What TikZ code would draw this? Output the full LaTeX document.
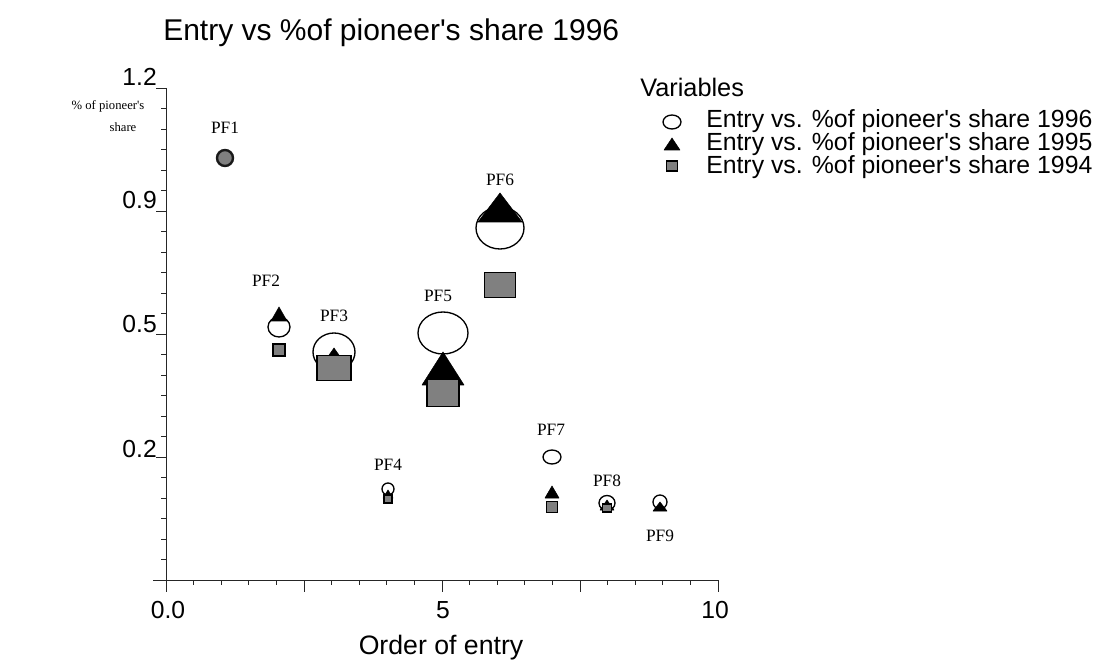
\documentclass[tikz,border=0pt]{standalone}
\usepackage{fontspec}
\setmainfont{Liberation Sans}
\newfontfamily\pfserif{Liberation Serif}
\newcommand\mcirc[4]{\draw[circ] (#1,#2) ellipse [x radius=#3, y radius=#4];}
\newcommand\mtri[4]{\draw[tri] (#1,#2) -- ++(#4,#3) -- ++(-2*#4,0) -- cycle;}
\newcommand\msq[4]{\draw[sq,shift={(#1,#2)}] (-#3/2,-#4/2) rectangle (#3/2,#4/2);}
\begin{document}
\begin{tikzpicture}[x=0.75pt,y=-0.75pt,
  axis/.style={line width=0.7pt, black!85},
  circ/.style={draw=black, line width=1pt},
  tri/.style={fill=black, draw=black, line width=0.4pt, line join=round},
  sq/.style={fill=black!50, draw=black, line width=1.4pt},
  pf/.style={font=\pfserif\fontsize{13}{15}\selectfont, inner sep=0pt},
  ticklab/.style={font=\fontsize{18.5}{22}\selectfont, inner sep=0pt},
  legtext/.style={font=\fontsize{18.6}{22}\selectfont, inner sep=0pt, anchor=west}]
\useasboundingbox (0,0) rectangle (1111,670);
% title
\node[anchor=west, font=\fontsize{22.5}{27}\selectfont, inner sep=0pt] (title) at (163,33) {Entry vs \%of pioneer\textquotesingle s share 1996};
% axes
\coordinate (ytop) at (166,88);
\coordinate (ybot) at (166,580);
\coordinate (xl) at (153,580);
\coordinate (xr) at (718,580);
\draw[axis] (ytop) -- (ybot);
\draw[axis] (xl) -- (xr);
\foreach \i in {0,...,24}{
  \pgfmathsetmacro\yy{88+20.5*\i}
  \pgfmathsetmacro\len{ifthenelse(mod(\i,6)==0,10,5)}
  \draw[axis] (166,\yy) -- ++(-\len,0);
}
\foreach \i in {0,...,20}{
  \pgfmathsetmacro\xx{166+27.6*\i}
  \pgfmathsetmacro\len{ifthenelse(mod(\i,5)==0,12,5)}
  \draw[axis] (\xx,580) -- ++(0,\len);
}
% tick labels
\node[ticklab, anchor=east] (y1) at (157,77) {1.2};
\node[ticklab, anchor=east] (y2) at (157,200) {0.9};
\node[ticklab, anchor=east] (y3) at (157,324) {0.5};
\node[ticklab, anchor=east] (y4) at (157,449) {0.2};
\node[ticklab] (x0) at (168,610) {0.0};
\node[ticklab] (x5) at (443,610) {5};
\node[ticklab] (x10) at (715,610) {10};
\node[font=\fontsize{20}{24}\selectfont, inner sep=0pt] (xtitle) at (441,648) {Order of entry};
\node[font=\pfserif\fontsize{9.5}{11}\selectfont, inner sep=0pt] (yt1) at (108,106) {\% of pioneer\textquotesingle s};
\node[font=\pfserif\fontsize{9.5}{11}\selectfont, inner sep=0pt] (yt2) at (123,127) {share};
% PF1
\draw[fill=black!50, draw=black!90, line width=1.8pt] (225,158) circle [radius=8];
\node[pf] (pf1) at (225,128) {PF1};
% PF2
\mcirc{279}{327}{11}{10}
\mtri{279}{307}{14}{8}
\msq{279}{350}{12}{12}
\node[pf] (pf2) at (266,281) {PF2};
% PF3
\mcirc{334}{352}{21}{19}
\mtri{334}{348}{10}{7}
\msq{334}{368}{34}{25}
\node[pf] (pf3) at (334,316) {PF3};
% PF4
\mcirc{388}{489}{6}{6}
\mtri{388}{490}{8}{5}
\msq{388}{499}{8}{8}
\node[pf] (pf4) at (388,465) {PF4};
% PF5
\mcirc{443}{333}{25}{21}
\mtri{443}{352}{33}{21}
\msq{443}{393}{32}{27}
\node[pf] (pf5) at (438,296) {PF5};
% PF6
\mcirc{500}{228}{24}{21}
\mtri{500}{193}{29}{22}
\msq{500}{285}{31}{25}
\node[pf] (pf6) at (500,180) {PF6};
% PF7
\mcirc{552}{457}{9}{7}
\mtri{552}{486}{12}{7}
\msq{552}{507}{11}{11}
\node[pf] (pf7) at (551,430) {PF7};
% PF8
\mcirc{607}{503}{8}{7.5}
\mtri{607}{500}{10}{7}
\msq{607}{508}{9}{8}
\node[pf] (pf8) at (607,481) {PF8};
% PF9
\mcirc{660}{502}{7}{7}
\mtri{660}{502}{9}{7}
\node[pf] (pf9) at (660,536) {PF9};
% legend
\node[font=\fontsize{19}{23}\selectfont, inner sep=0pt, anchor=west] (legtitle) at (640,87) {Variables};
\mcirc{672}{122}{9}{7}
\mtri{672}{138}{12}{8}
\msq{672}{166}{11}{10}
\node[legtext] (l1) at (706,121) {Entry vs. \%of pioneer\textquotesingle s share 1996};
\node[legtext] (l2) at (706,144) {Entry vs. \%of pioneer\textquotesingle s share 1995};
\node[legtext] (l3) at (706,167) {Entry vs. \%of pioneer\textquotesingle s share 1994};
\end{tikzpicture}
\end{document}
